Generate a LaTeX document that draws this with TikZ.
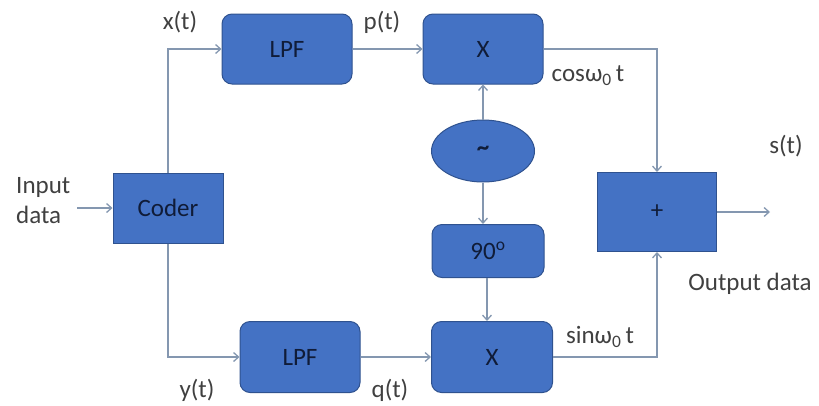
\documentclass[tikz,border=0pt]{standalone}
\usepackage{fontspec}
\setmainfont{Carlito}
\usetikzlibrary{arrows.meta,shapes.geometric}
\definecolor{boxfill}{HTML}{4472C4}
\definecolor{boxdraw}{HTML}{2F528F}
\definecolor{wire}{HTML}{8497B0}
\definecolor{inner}{HTML}{101C38}
\definecolor{lbl}{HTML}{404040}
\tikzset{
  blk/.style={draw=boxdraw, fill=boxfill, line width=1pt, text=inner, inner sep=0pt, font=\fontsize{25}{27}\selectfont},
  rblk/.style={blk, rounded corners=10pt},
  wirec/.style={draw=wire, line width=1.3pt, -{Straight Barb[length=5pt,width=9pt]}},
  lab/.style={text=lbl, inner sep=0pt, font=\fontsize{25}{27}\selectfont}
}
\begin{document}
\begin{tikzpicture}[x=1pt,y=-1pt]
\useasboundingbox (0,0) rectangle (819,405);
\node[rblk, minimum width=130pt, minimum height=70pt] (lpf1) at (287,49) {LPF};
\node[rblk, minimum width=120pt, minimum height=70pt] (mul1) at (483,49) {X};
\node[blk, ellipse, minimum width=103pt, minimum height=62pt] (osc) at (483,151) {\raisebox{-3pt}{\textbf{\textasciitilde}}};
\node[rblk, minimum width=112pt, minimum height=53pt] (ph) at (488,251) {90\textsuperscript{o}};
\node[rblk, minimum width=121pt, minimum height=71pt] (mul2) at (492,357) {X};
\node[rblk, minimum width=120pt, minimum height=71pt] (lpf2) at (300,357) {LPF};
\node[blk, minimum width=110pt, minimum height=70pt] (coder) at (168,208) {Coder};
\node[blk, minimum width=119pt, minimum height=79pt] (sum) at (657,212) {+};
\coordinate (in) at (77,208);
\coordinate (out) at (770,212);

\draw[wirec] (coder.north) |- (lpf1.west);
\draw[wirec] (coder.south) |- (lpf2.west);
\draw[wirec] (in) -- (coder.west);
\draw[wirec] (lpf1.east) -- (mul1.west);
\draw[wirec] (lpf2.east) -- (mul2.west);
\draw[wirec] (osc.north) -- (mul1.south);
\draw[wirec] (osc.south) -- (osc.south |- ph.north);
\draw[wirec] (ph.south -| mul2.north) ++(-5,0) coordinate (phs) -- (phs |- mul2.north);
\draw[wirec] (mul1.east) -| (sum.north);
\draw[wirec] (mul2.east) -| (sum.south);
\draw[wirec] (sum.east) -- (out);

\node[lab] (lx) at (180,22) {x(t)};
\node[lab] (lp) at (382,22) {p(t)};
\node[lab] (lcos) at (588,76) {cosω\textsubscript{0}\,t};
\node[lab] (ls) at (786,146) {s(t)};
\node[lab] (ly) at (197,390) {y(t)};
\node[lab] (lq) at (390,390) {q(t)};
\node[lab] (lsin) at (600,337) {sinω\textsubscript{0}\,t};
\node[lab] (lout) at (750,284) {Output data};
\node[lab, anchor=west] (lin1) at (16,187) {Input};
\node[lab, anchor=west] (lin2) at (16,215) {data};
\end{tikzpicture}
\end{document}
